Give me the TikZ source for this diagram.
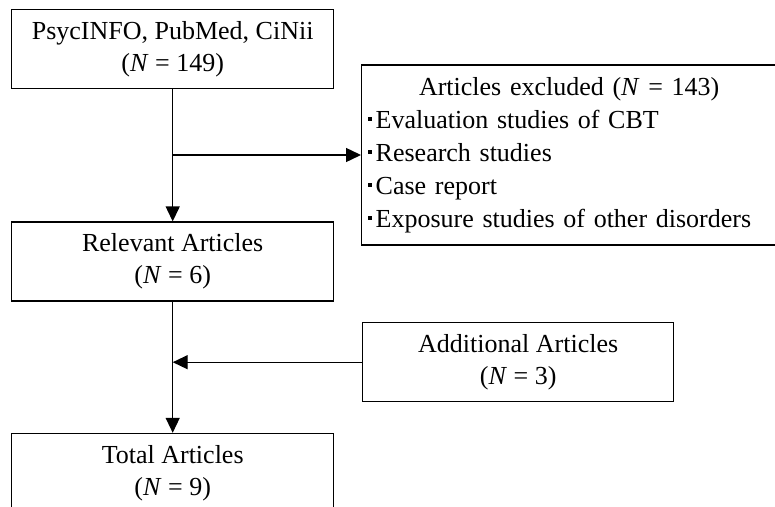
\documentclass[tikz,border=0pt]{standalone}
\usepackage{fontspec}
\setmainfont{Liberation Serif}
\usetikzlibrary{arrows.meta,positioning}
\tikzstyle{block} = [rectangle, draw, line width=1.4pt, minimum width=322pt,
    minimum height=79pt, align=center, inner sep=0pt,
    font=\fontsize{26}{32}\selectfont]
\tikzstyle{listbox} = [rectangle, draw, line width=1.4pt, text width=403pt,
    minimum height=180pt, align=left, inner xsep=6pt, inner ysep=0pt,
    font=\fontsize{26}{33}\selectfont]
\tikzstyle{line} = [draw, line width=1.4pt, -{Triangle[length=15pt,width=14pt]}]
\newcommand{\sqdot}{\raisebox{0.28em}{\rule{4pt}{4pt}}\hspace{4pt}}

\begin{document}
\begin{tikzpicture}[x=1pt, y=-1pt]
        \useasboundingbox (0,0) rectangle (775,506);
        % Place nodes
        \node [block, anchor=north west] (search) at (11,9) {PsycINFO, PubMed, CiNii\\(\textit{N} = 149)};
        \node [block, below=132pt of search] (relevant) {Relevant Articles\\(\textit{N} = 6)};
        \node [block, below=131pt of relevant] (total) {Total Articles\\(\textit{N} = 9)};
        \node [listbox, anchor=west] (excluded) at (361,155) {\makebox[403pt]{Articles excluded (\textit{N} = 143)}\\
            \sqdot Evaluation studies of CBT\\
            \sqdot Research studies\\
            \sqdot Case report\\
            \sqdot Exposure studies of other disorders};
        \node [block, minimum width=311pt, anchor=north west] (additional) at (362,322) {Additional Articles\\(\textit{N} = 3)};
        \coordinate (split) at (search.south |- excluded.west);
        \coordinate (merge) at (relevant.south |- additional.west);
        % Draw edges
        \path [line] (search) -- (relevant);
        \path [line] (split) -- (excluded);
        \path [line] (relevant) -- (total);
        \path [line] (additional) -- (merge);
\end{tikzpicture}
\end{document}
